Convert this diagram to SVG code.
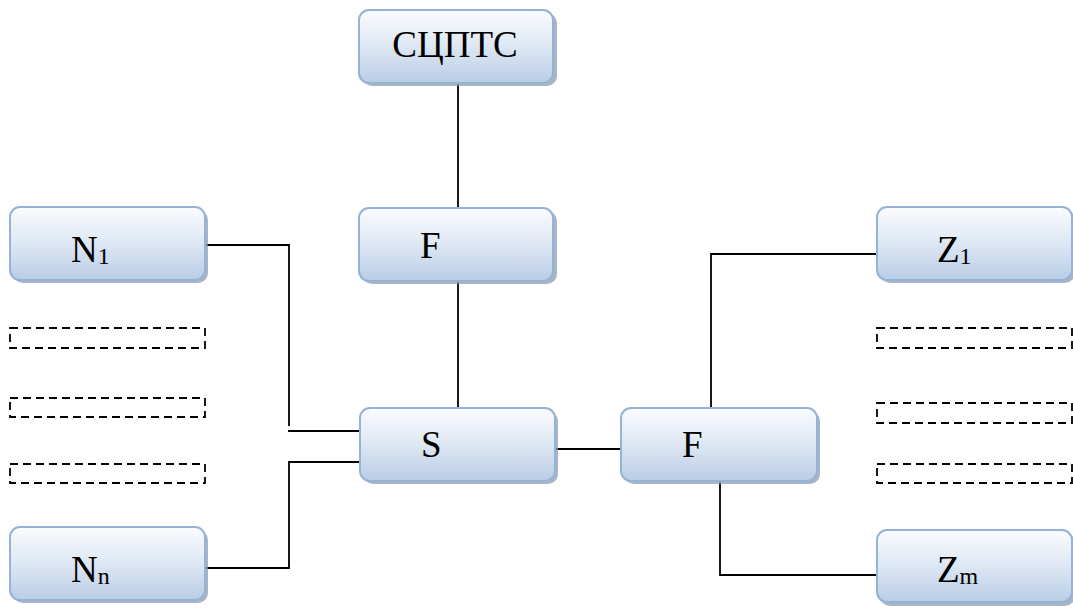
<svg xmlns="http://www.w3.org/2000/svg" width="1073" height="610" viewBox="0 0 1073 610">
<defs>
<linearGradient id="g" x1="0" y1="0" x2="0" y2="1">
<stop offset="0" stop-color="#fbfcfe"/>
<stop offset="0.5" stop-color="#dde7f3"/>
<stop offset="1" stop-color="#b9cde6"/>
</linearGradient>
</defs>
<style>
.sh{fill:#8c9bb0;opacity:0.75}
.bx{fill:url(#g);stroke:#95b3d7;stroke-width:2}
.t{font-family:"Liberation Serif","Times New Roman",serif;font-size:37px;fill:#000}
.sub{font-size:24px}
.ds{fill:none;stroke:#000;stroke-width:1.8;stroke-dasharray:8,5}
.ln{fill:none;stroke:#000;stroke-width:1.8}
</style>
<g id="connectors">
<path class="ln" d="M458,84 V208"/>
<path class="ln" d="M458,281 V408"/>
<path class="ln" d="M205,245 H289 V426"/>
<path class="ln" d="M288,431 H360"/>
<path class="ln" d="M360,462 H289 V568 H205"/>
<path class="ln" d="M555,449 H621"/>
<path class="ln" d="M711,408 V254 H877"/>
<path class="ln" d="M720,481 V575 H877"/>
</g>
<g id="sciptc"><rect class="sh" x="362" y="13" width="195" height="73" rx="10"/><rect class="bx" x="359" y="10" width="194" height="73" rx="10"/><text class="t" x="455" y="57" text-anchor="middle">СЦПТС</text></g>
<g id="f1"><rect class="sh" x="362" y="211" width="195" height="73" rx="10"/><rect class="bx" x="359" y="208" width="194" height="73" rx="10"/><text class="t" x="420" y="258">F</text></g>
<g id="s"><rect class="sh" x="363" y="411" width="195" height="73" rx="10"/><rect class="bx" x="360" y="408" width="195" height="73" rx="10"/><text class="t" x="421" y="457">S</text></g>
<g id="f2"><rect class="sh" x="624" y="411" width="196" height="73" rx="10"/><rect class="bx" x="621" y="408" width="196" height="73" rx="10"/><text class="t" x="682" y="457">F</text></g>
<g id="n1"><rect class="sh" x="13" y="210" width="195" height="73" rx="10"/><rect class="bx" x="10" y="207" width="195" height="73" rx="10"/><text class="t" x="71" y="262">N<tspan class="sub" dy="2">1</tspan></text></g>
<g id="nn"><rect class="sh" x="13" y="530" width="195" height="73" rx="10"/><rect class="bx" x="10" y="527" width="195" height="73" rx="10"/><text class="t" x="71" y="582">N<tspan class="sub" dy="2">n</tspan></text></g>
<g id="z1"><rect class="sh" x="880" y="210" width="195" height="73" rx="10"/><rect class="bx" x="877" y="207" width="195" height="73" rx="10"/><text class="t" x="937" y="262">Z<tspan class="sub" dy="2">1</tspan></text></g>
<g id="zm"><rect class="sh" x="880" y="533" width="195" height="73" rx="10"/><rect class="bx" x="877" y="530" width="195" height="72" rx="10"/><text class="t" x="937" y="582">Z<tspan class="sub" dy="2">m</tspan></text></g>
<g id="dashed-left">
<rect class="ds" x="10" y="328" width="195" height="20"/>
<rect class="ds" x="10" y="398" width="195" height="19"/>
<rect class="ds" x="10" y="464" width="195" height="19"/>
</g>
<g id="dashed-right">
<rect class="ds" x="877" y="328" width="195" height="20"/>
<rect class="ds" x="877" y="403" width="195" height="20"/>
<rect class="ds" x="877" y="464" width="195" height="19"/>
</g>
</svg>
